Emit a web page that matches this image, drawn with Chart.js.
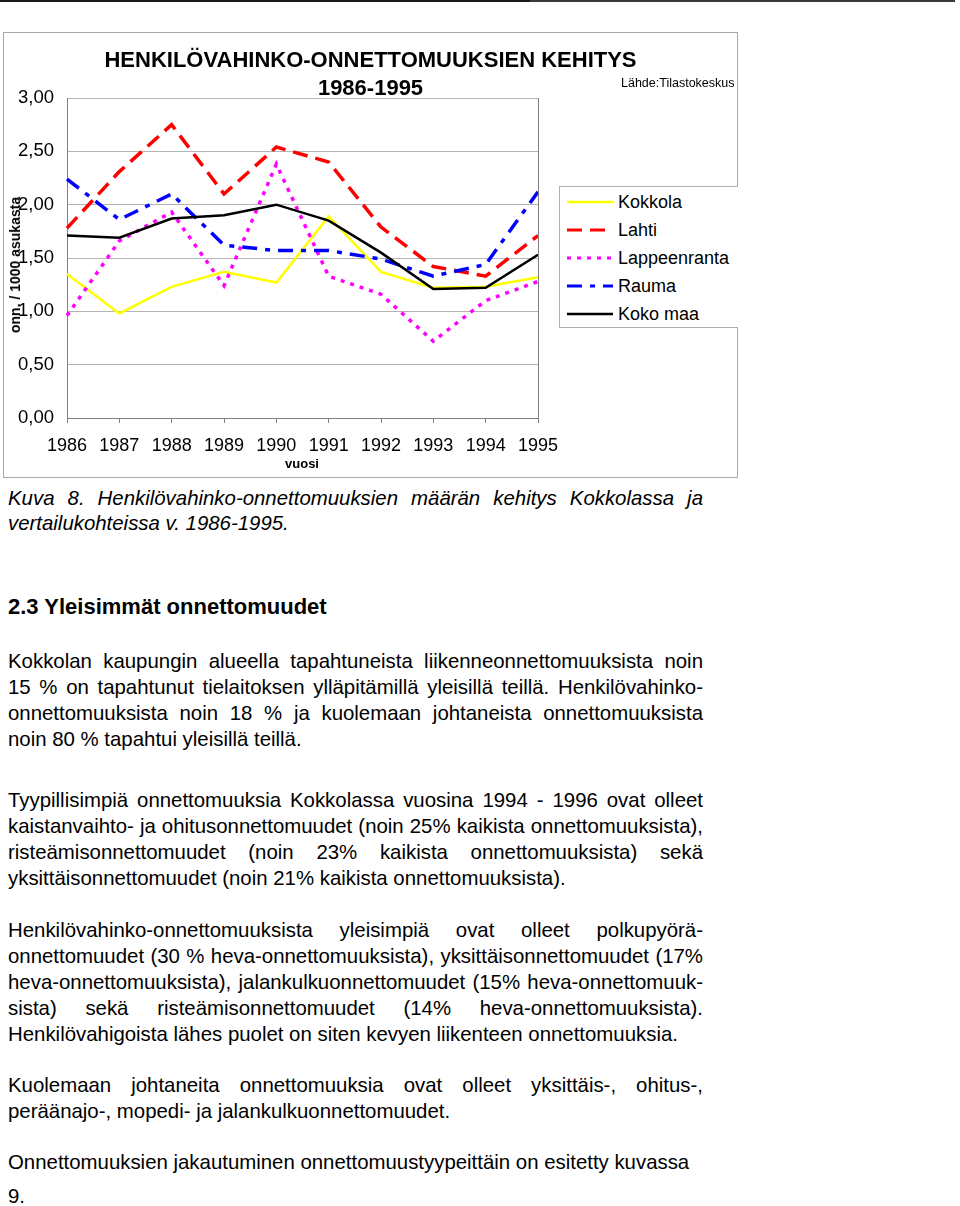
<!DOCTYPE html>
<html>
<head>
<meta charset="utf-8">
<script src="https://cdn.jsdelivr.net/npm/chart.js@4.4.1/dist/chart.umd.min.js"></script>
<style>
  html, body { margin: 0; padding: 0; background: #fff; }
  body { width: 960px; height: 1206px; position: relative; overflow: hidden;
         font-family: "Liberation Sans", Arial, sans-serif; color: #000; }
  .abs { position: absolute; }
  #toprule1 { left: 0; top: 0; width: 530px; height: 2px; background: #1a1a1a; }
  #toprule2 { left: 530px; top: 0; width: 425px; height: 2px; background: #3a3a3a; }
  #frame { left: 3px; top: 32px; width: 733px; height: 444px; border: 1px solid #a8a8a8; }
  #chartbox { left: 3px; top: 32px; width: 735px; height: 446px; }
  .ctitle { left: 3px; width: 735px; text-align: center; font-weight: bold; font-size: 22px; line-height: 26px; }
  #source { left: 621px; top: 75px; font-size: 12.5px; line-height: 16px; }
  #ytitle { left: 15px; top: 265px; transform: translate(-50%, -50%) rotate(-90deg);
            font-weight: bold; font-size: 14px; white-space: nowrap; }
  #xtitle { left: 302px; top: 463px; transform: translate(-50%, -50%); font-weight: bold; font-size: 13px; }
  #legend { left: 559px; top: 186px; width: 178px; height: 140px; border: 1px solid #b0b0b0; border-right: none; background: #fff; }
  .lg { position: absolute; left: 0; height: 28px; width: 178px; }
  .lg svg { position: absolute; left: 7px; top: 8px; }
  .lg span { position: absolute; left: 58px; top: 3px; font-size: 18px; line-height: 22px; }
  .line { position: absolute; left: 8px; width: 695px; font-size: 20.4px; line-height: 26px; white-space: nowrap; }
  .j { text-align: justify; text-align-last: justify; white-space: normal; }
  .it { font-style: italic; }
  .b { font-weight: bold; font-size: 22px; }
</style>
</head>
<body>
<div id="toprule1" class="abs"></div>
<div id="toprule2" class="abs"></div>
<div id="frame" class="abs"></div>
<div id="chartbox" class="abs"><canvas id="c" width="735" height="446"></canvas></div>
<div class="abs ctitle" style="top:47px">HENKILÖVAHINKO-ONNETTOMUUKSIEN KEHITYS</div>
<div class="abs ctitle" style="top:75px">1986-1995</div>
<div id="source" class="abs">Lähde:Tilastokeskus</div>
<div id="ytitle" class="abs">onn. / 1000 asukasta</div>
<div id="xtitle" class="abs">vuosi</div>
<div id="legend" class="abs"></div>

<div class="line it j" style="top:485px">Kuva 8. Henkilövahinko-onnettomuuksien määrän kehitys Kokkolassa ja</div>
<div class="line it" style="top:510px">vertailukohteissa v. 1986-1995.</div>

<div class="line b" style="top:594px">2.3 Yleisimmät onnettomuudet</div>

<div class="line j" style="top:648px">Kokkolan kaupungin alueella tapahtuneista liikenneonnettomuuksista noin</div>
<div class="line j" style="top:674px">15 % on tapahtunut tielaitoksen ylläpitämillä yleisillä teillä. Henkilövahinko-</div>
<div class="line j" style="top:700px">onnettomuuksista noin 18 % ja kuolemaan johtaneista onnettomuuksista</div>
<div class="line" style="top:726px">noin 80 % tapahtui yleisillä teillä.</div>

<div class="line j" style="top:787px">Tyypillisimpiä onnettomuuksia Kokkolassa vuosina 1994 - 1996 ovat olleet</div>
<div class="line j" style="top:813px">kaistanvaihto- ja ohitusonnettomuudet (noin 25% kaikista onnettomuuksista),</div>
<div class="line j" style="top:839px">risteämisonnettomuudet (noin 23% kaikista onnettomuuksista) sekä</div>
<div class="line" style="top:865px">yksittäisonnettomuudet (noin 21% kaikista onnettomuuksista).</div>

<div class="line j" style="top:917px">Henkilövahinko-onnettomuuksista yleisimpiä ovat olleet polkupyörä-</div>
<div class="line j" style="top:943px">onnettomuudet (30 % heva-onnettomuuksista), yksittäisonnettomuudet (17%</div>
<div class="line j" style="top:969px">heva-onnettomuuksista), jalankulkuonnettomuudet (15% heva-onnettomuuk-</div>
<div class="line j" style="top:995px">sista) sekä risteämisonnettomuudet (14% heva-onnettomuuksista).</div>
<div class="line" style="top:1021px">Henkilövahigoista lähes puolet on siten kevyen liikenteen onnettomuuksia.</div>

<div class="line j" style="top:1072px">Kuolemaan johtaneita onnettomuuksia ovat olleet yksittäis-, ohitus-,</div>
<div class="line" style="top:1098px">peräänajo-, mopedi- ja jalankulkuonnettomuudet.</div>

<div class="line" style="top:1149px">Onnettomuuksien jakautuminen onnettomuustyypeittäin on esitetty kuvassa</div>
<div class="line" style="top:1183px">9.</div>

<script>
// ---- data ----
const years = ['1986','1987','1988','1989','1990','1991','1992','1993','1994','1995'];
const yTicks = [0, 0.5, 1, 1.5, 2, 2.5, 3];
const seriesNames = ['Kokkola', 'Lahti', 'Lappeenranta', 'Rauma', 'Koko maa'];
const kokkola      = [1.35, 0.98, 1.23, 1.37, 1.27, 1.89, 1.37, 1.22, 1.23, 1.32];
const lahti        = [1.78, 2.31, 2.75, 2.10, 2.54, 2.40, 1.79, 1.42, 1.33, 1.71];
const lappeenranta = [0.96, 1.66, 1.93, 1.24, 2.38, 1.33, 1.16, 0.72, 1.10, 1.28];
const rauma        = [2.24, 1.86, 2.10, 1.62, 1.57, 1.57, 1.49, 1.33, 1.44, 2.12];
const kokoMaa      = [1.71, 1.69, 1.87, 1.90, 2.00, 1.85, 1.55, 1.21, 1.22, 1.53];

// ---- styles ----
const colors = ['#ffff00', '#ff0000', '#ff00ff', '#0000ff', '#000000'];
const widths = [2.5, 3.5, 3.5, 3.5, 2.5];
const dashes = [[], [15, 8], [4, 6], [15, 8, 5, 8], []];
const allData = [kokkola, lahti, lappeenranta, rauma, kokoMaa];

// HTML legend
const lg = document.getElementById('legend');
seriesNames.forEach((n, i) => {
  const row = document.createElement('div');
  row.className = 'lg';
  row.style.top = (i * 28 + 1) + 'px';
  const svgNS = 'http://www.w3.org/2000/svg';
  const svg = document.createElementNS(svgNS, 'svg');
  svg.setAttribute('width', '46'); svg.setAttribute('height', '12');
  const l = document.createElementNS(svgNS, 'line');
  l.setAttribute('x1', '0'); l.setAttribute('x2', '46');
  l.setAttribute('y1', '6'); l.setAttribute('y2', '6');
  l.setAttribute('stroke', colors[i]);
  l.setAttribute('stroke-width', i === 0 || i === 4 ? '2.5' : '3');
  if (dashes[i].length) l.setAttribute('stroke-dasharray', dashes[i].join(' '));
  svg.appendChild(l);
  row.appendChild(svg);
  const sp = document.createElement('span');
  sp.textContent = n;
  row.appendChild(sp);
  lg.appendChild(row);
});

const framePlugin = {
  id: 'frame',
  afterDraw(chart) {
    const a = chart.chartArea, ctx = chart.ctx;
    ctx.save();
    ctx.strokeStyle = '#808080';
    ctx.lineWidth = 1;
    ctx.beginPath();
    ctx.moveTo(Math.round(a.right) + 0.5, a.top);
    ctx.lineTo(Math.round(a.right) + 0.5, a.bottom);
    ctx.stroke();
    ctx.restore();
  }
};

new Chart(document.getElementById('c'), {
  type: 'line',
  data: {
    labels: years,
    datasets: allData.map((d, i) => ({
      label: seriesNames[i],
      data: d,
      borderColor: colors[i],
      backgroundColor: colors[i],
      borderWidth: widths[i],
      borderDash: dashes[i],
      pointRadius: 0,
      tension: 0,
      fill: false,
      order: 5 - i
    }))
  },
  options: {
    responsive: false,
    animation: false,
    devicePixelRatio: 1,
    layout: { padding: { left: 0, right: 200, top: 66, bottom: 0 } },
    plugins: { legend: { display: false }, title: { display: false }, tooltip: { enabled: false } },
    scales: {
      x: {
        type: 'category',
        offset: false,
        grid: { drawOnChartArea: false, drawTicks: true, tickLength: 5, color: '#808080' },
        border: { color: '#808080', width: 1 },
        ticks: { color: '#000', font: { family: 'Liberation Sans, Arial, sans-serif', size: 18 }, padding: 12, maxRotation: 0, autoSkip: false },
        afterFit(s) { s.height = 60; }
      },
      y: {
        min: 0, max: 3,
        afterBuildTicks(s) { s.ticks = yTicks.map(v => ({ value: v })); },
        grid: { color: '#b4b4b4', drawTicks: false, lineWidth: 1 },
        border: { color: '#808080', width: 1 },
        ticks: {
          color: '#000',
          font: { family: 'Liberation Sans, Arial, sans-serif', size: 18.5 },
          padding: 13,
          callback: v => v.toFixed(2).replace('.', ',')
        },
        afterFit(s) { s.width = 64; }
      }
    }
  },
  plugins: [framePlugin]
});
</script>
</body>
</html>
